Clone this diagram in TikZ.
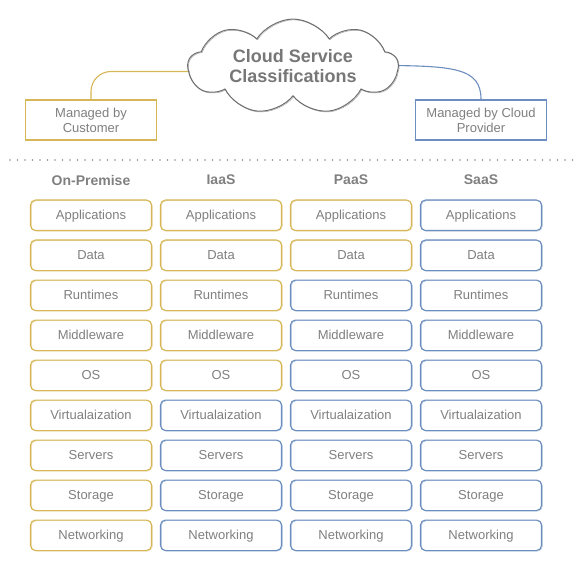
\documentclass[tikz,border=0pt]{standalone}
\usepackage{fontspec}
\setsansfont{Liberation Sans}
\usepackage{xcolor}
\usetikzlibrary{shapes.symbols,positioning,backgrounds}
\definecolor{custcol}{HTML}{D6B656}
\definecolor{provcol}{HTML}{6C8EBF}
\definecolor{txtgray}{HTML}{808080}
\definecolor{titlegray}{HTML}{777777}
\definecolor{cloudgray}{HTML}{6E6E6E}
\tikzset{
    every picture/.style={font=\sffamily},
    every node/.style={font=\sffamily}
}

\begin{document}
\begin{tikzpicture}[x=1pt, y=-1pt,
    % Base styles
    layer/.style={rectangle, fill=white, line width=1.1pt, rounded corners=5pt, minimum width=121pt, minimum height=30.5pt, inner sep=0pt, text=txtgray, font=\sffamily\fontsize{13}{15}\selectfont, text height=10pt, text depth=2.5pt},
    cust/.style={layer, draw=custcol, postaction={draw=custcol, line width=0.5pt, opacity=0.6, transform canvas={shift={(0.8pt,-0.6pt)}}}},
    prov/.style={layer, draw=provcol, postaction={draw=provcol, line width=0.5pt, opacity=0.6, transform canvas={shift={(0.8pt,-0.6pt)}}}},
    legend/.style={rectangle, fill=white, line width=1.1pt, minimum width=131pt, minimum height=40pt, inner sep=0pt, align=center, text=txtgray, font=\sffamily\fontsize{13}{15}\selectfont},
    % Lines
    link/.style={line width=1.1pt},
    sep/.style={draw=black!45, line width=1.6pt, line cap=round, dash pattern=on 0pt off 7.5pt},
    % Text
    title/.style={font=\sffamily\bfseries\fontsize{18}{20}\selectfont, text=titlegray, align=center},
    col/.style={font=\sffamily\bfseries\fontsize{14}{16}\selectfont, text=txtgray}
]
\useasboundingbox (0,0) rectangle (583,561);

% === CLOUD TITLE ===
\node[cloud, draw=cloudgray, fill=white, line width=1pt, cloud puffs=9, cloud puff arc=115, aspect=2.5, minimum width=210pt, minimum height=92pt, inner sep=-4pt, title,
      postaction={draw=cloudgray, line width=0.5pt, opacity=0.6, transform canvas={shift={(0.8pt,-0.8pt)}}}] (cloud) at (293,66.5) {Cloud Service\\Classifications};

% === LEGEND ===
\node[legend, draw=custcol] (by_cust) at (91,120) {Managed by\\Customer};
\node[legend, draw=provcol] (by_prov) at (481,120) {Managed by Cloud\\Provider};

\begin{scope}[on background layer]
    \draw[link, draw=custcol, rounded corners=20pt] (by_cust.north) |- ([xshift=25pt,yshift=-5pt]cloud.west);
    \draw[link, draw=provcol] ([xshift=-25pt,yshift=1pt]cloud.east) .. controls +(80,0) and +(0,-32) .. (by_prov.north);
\end{scope}

% === SEPARATOR ===
\coordinate (sep_l) at (10,160);
\coordinate (sep_r) at (573,160);
\draw[sep] (sep_l) -- (sep_r);

% === ON-PREMISE ===
\begin{scope}[shift={(91,0)}]
    \node[col] (hd_op) at (0,180) {On-Premise};
    \node[cust] (app_op) at (0,215.3) {Applications};
    \node[cust] (data_op) at (0,255.3) {Data};
    \node[cust] (run_op) at (0,295.3) {Runtimes};
    \node[cust] (mid_op) at (0,335.3) {Middleware};
    \node[cust] (os_op) at (0,375.3) {OS};
    \node[cust] (virt_op) at (0,415.3) {Virtualaization};
    \node[cust] (srv_op) at (0,455.3) {Servers};
    \node[cust] (sto_op) at (0,495.3) {Storage};
    \node[cust] (net_op) at (0,535.3) {Networking};
\end{scope}

% === IAAS ===
\begin{scope}[shift={(221,0)}]
    \node[col] (hd_iaas) at (0,180) {IaaS};
    \node[cust] (app_iaas) at (0,215.3) {Applications};
    \node[cust] (data_iaas) at (0,255.3) {Data};
    \node[cust] (run_iaas) at (0,295.3) {Runtimes};
    \node[cust] (mid_iaas) at (0,335.3) {Middleware};
    \node[cust] (os_iaas) at (0,375.3) {OS};
    \node[prov] (virt_iaas) at (0,415.3) {Virtualaization};
    \node[prov] (srv_iaas) at (0,455.3) {Servers};
    \node[prov] (sto_iaas) at (0,495.3) {Storage};
    \node[prov] (net_iaas) at (0,535.3) {Networking};
\end{scope}

% === PAAS ===
\begin{scope}[shift={(351,0)}]
    \node[col] (hd_paas) at (0,180) {PaaS};
    \node[cust] (app_paas) at (0,215.3) {Applications};
    \node[cust] (data_paas) at (0,255.3) {Data};
    \node[prov] (run_paas) at (0,295.3) {Runtimes};
    \node[prov] (mid_paas) at (0,335.3) {Middleware};
    \node[prov] (os_paas) at (0,375.3) {OS};
    \node[prov] (virt_paas) at (0,415.3) {Virtualaization};
    \node[prov] (srv_paas) at (0,455.3) {Servers};
    \node[prov] (sto_paas) at (0,495.3) {Storage};
    \node[prov] (net_paas) at (0,535.3) {Networking};
\end{scope}

% === SAAS ===
\begin{scope}[shift={(481,0)}]
    \node[col] (hd_saas) at (0,180) {SaaS};
    \node[prov] (app_saas) at (0,215.3) {Applications};
    \node[prov] (data_saas) at (0,255.3) {Data};
    \node[prov] (run_saas) at (0,295.3) {Runtimes};
    \node[prov] (mid_saas) at (0,335.3) {Middleware};
    \node[prov] (os_saas) at (0,375.3) {OS};
    \node[prov] (virt_saas) at (0,415.3) {Virtualaization};
    \node[prov] (srv_saas) at (0,455.3) {Servers};
    \node[prov] (sto_saas) at (0,495.3) {Storage};
    \node[prov] (net_saas) at (0,535.3) {Networking};
\end{scope}

\end{tikzpicture}
\end{document}
